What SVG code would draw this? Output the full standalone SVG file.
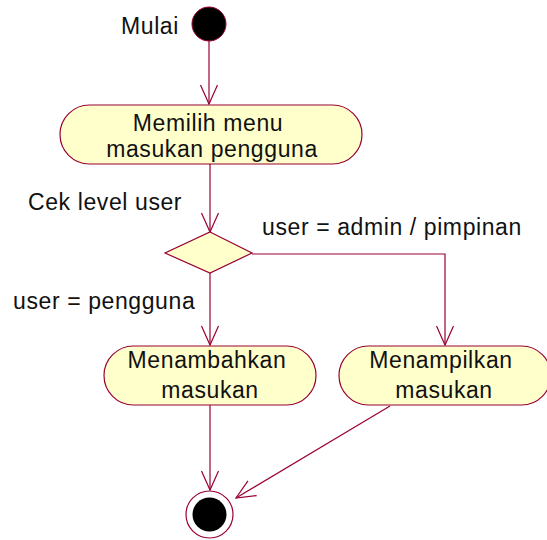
<svg xmlns="http://www.w3.org/2000/svg" width="547" height="540" viewBox="0 0 547 540">
<style>
.lbl{font-family:"Liberation Sans",Arial,sans-serif;font-size:23px;letter-spacing:0.6px;fill:#111}
.act{fill:#FFFFCC;stroke:#990033;stroke-width:1.2}
.edge{fill:none;stroke:#990033;stroke-width:1.2;marker-end:url(#arr)}
</style>
<defs>
<marker id="arr" markerUnits="userSpaceOnUse" markerWidth="40" markerHeight="40" refX="0" refY="0" orient="auto" overflow="visible">
<path d="M-19,-8.5 L0,0 L-19,8.5" fill="none" stroke="#990033" stroke-width="1.2"/>
</marker>
</defs>
<rect width="547" height="540" fill="#fff"/>
<g id="connectors">
<line class="edge" x1="209" y1="41" x2="209" y2="104"/>
<line class="edge" x1="210" y1="164" x2="210" y2="232"/>
<polyline class="edge" points="252,254 445,254 445,345"/>
<line class="edge" x1="210" y1="273" x2="210" y2="345"/>
<line class="edge" x1="210" y1="405" x2="210" y2="490"/>
<line class="edge" x1="390" y1="406" x2="236" y2="498"/>
</g>
<g id="start">
<circle cx="209" cy="24" r="17" fill="#000" stroke="#990033" stroke-width="1"/>
<text class="lbl" x="121" y="34">Mulai</text>
</g>
<g id="memilih">
<rect class="act" x="60" y="105" width="302" height="59" rx="29.5" ry="29.5"/>
<text class="lbl" x="208" y="131" text-anchor="middle">Memilih menu</text>
<text class="lbl" x="212" y="157" text-anchor="middle">masukan pengguna</text>
</g>
<g id="decision">
<polygon points="210,232 252,253 210,273 165,253" fill="#FFFFCC" stroke="#990033" stroke-width="1.2"/>
<text class="lbl" x="28" y="210">Cek level user</text>
<text class="lbl" x="262" y="235">user = admin / pimpinan</text>
<text class="lbl" x="13" y="309">user = pengguna</text>
</g>
<g id="menambahkan">
<rect class="act" x="104" y="346" width="212" height="59" rx="29.5" ry="29.5"/>
<text class="lbl" x="207" y="368" text-anchor="middle">Menambahkan</text>
<text class="lbl" x="210" y="398" text-anchor="middle">masukan</text>
</g>
<g id="menampilkan">
<rect class="act" x="339" y="346" width="212" height="59" rx="29.5" ry="29.5"/>
<text class="lbl" x="441" y="368" text-anchor="middle">Menampilkan</text>
<text class="lbl" x="444" y="398" text-anchor="middle">masukan</text>
</g>
<g id="end">
<circle cx="209.5" cy="514.5" r="23.5" fill="#fff" stroke="#990033" stroke-width="1.2"/>
<circle cx="209.5" cy="514.5" r="17" fill="#000"/>
</g>
</svg>
